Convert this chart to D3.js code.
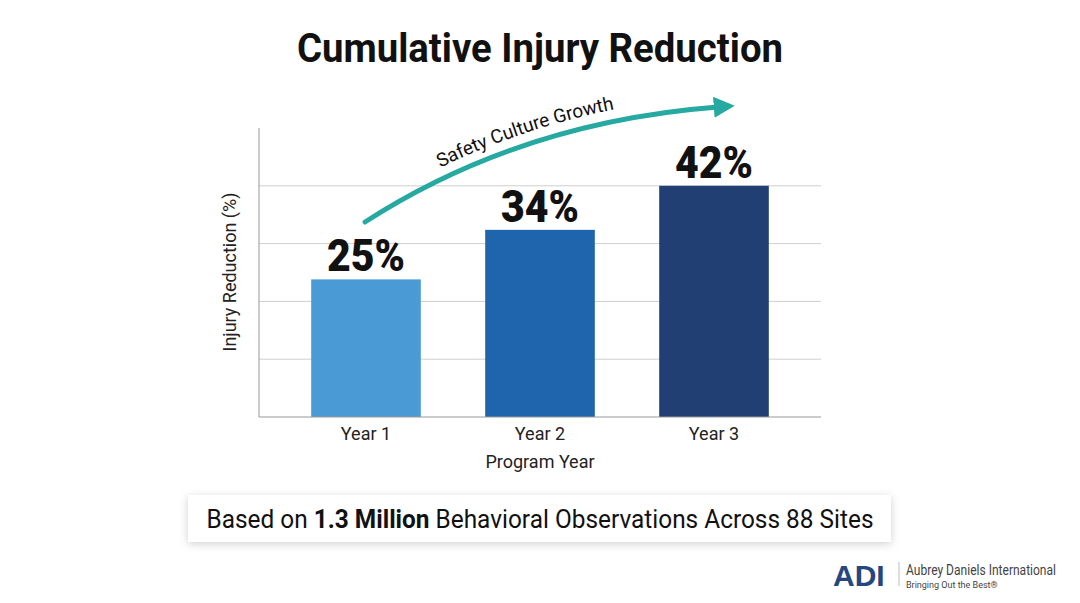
<!DOCTYPE html>
<html lang="en">
  <head>
    <meta charset="utf-8">
    <title>Cumulative Injury Reduction</title>
    <style>
      body { margin: 0; background: #fff; }
      svg { font-family: "Roboto", sans-serif; }
    </style>
  </head>
  <body>
    <svg width="1080" height="603"></svg>
    <script src="https://cdn.jsdelivr.net/npm/d3@7/dist/d3.min.js"></script>
    <script>
      const years = ['Year 1', 'Year 2', 'Year 3'];
      const values = [25, 34, 42];
      const labels = ['25%', '34%', '42%'];
      const colours = ['#4a9bd5', '#1f65ad', '#213f73'];
      const gridTicks = [10.5, 21, 31.5, 42];

      const svg = d3.select('svg');
      const defs = svg.append('defs');
      const f = defs.append('filter').attr('id', 'sh').attr('x', '-5%').attr('y', '-30%').attr('width', '110%').attr('height', '160%');
      f.append('feDropShadow').attr('dx', 0).attr('dy', 2).attr('stdDeviation', 4).attr('flood-color', '#000').attr('flood-opacity', 0.18);
      defs.append('marker').attr('id', 'ah').attr('viewBox', '0 0 10 10').attr('refX', 2).attr('refY', 5)
        .attr('markerWidth', 4.2).attr('markerHeight', 4.2).attr('orient', 'auto').attr('markerUnits', 'strokeWidth')
        .append('path').attr('d', 'M0,0 L10,5 L0,10 z').attr('fill', '#26a9a0');

      const x = d3.scaleBand().domain(years).range([279, 801]).paddingInner(0.37).paddingOuter(0.185);
      const y = d3.scaleLinear().domain([0, 52.5]).range([417, 128]);

      svg.append('text').attr('x', 540).attr('y', 62).attr('text-anchor', 'middle')
        .attr('font-size', 40).attr('font-weight', 'bold').attr('fill', '#111')
        .attr('textLength', 486).attr('lengthAdjust', 'spacingAndGlyphs').text('Cumulative Injury Reduction');

      svg.append('g').selectAll('line').data(gridTicks).enter().append('line')
        .attr('x1', 259).attr('x2', 821).attr('y1', d => y(d)).attr('y2', d => y(d))
        .attr('stroke', '#cfcfcf').attr('stroke-width', 1);

      svg.append('g').selectAll('rect').data(values).enter().append('rect')
        .attr('x', (d, i) => x(years[i])).attr('width', x.bandwidth())
        .attr('y', d => y(d)).attr('height', d => y(0) - y(d))
        .attr('fill', (d, i) => colours[i]);

      svg.append('g').selectAll('text').data(values).enter().append('text')
        .attr('x', (d, i) => x(years[i]) + x.bandwidth() / 2).attr('y', d => y(d) - 8)
        .attr('text-anchor', 'middle').attr('font-size', 44).attr('font-weight', 900).attr('fill', '#111')
        .attr('textLength', 78).attr('lengthAdjust', 'spacingAndGlyphs')
        .text((d, i) => labels[i]);

      svg.append('line').attr('x1', 259).attr('x2', 259).attr('y1', 128).attr('y2', 417).attr('stroke', '#999');
      svg.append('line').attr('x1', 259).attr('x2', 821).attr('y1', 417).attr('y2', 417).attr('stroke', '#999');

      svg.append('g').selectAll('text').data(years).enter().append('text')
        .attr('x', d => x(d) + x.bandwidth() / 2).attr('y', 440).attr('text-anchor', 'middle')
        .attr('font-size', 18).attr('fill', '#222').text(d => d);
      svg.append('text').attr('x', 540).attr('y', 468).attr('text-anchor', 'middle')
        .attr('font-size', 18).attr('fill', '#222').text('Program Year');
      svg.append('text').attr('transform', 'translate(236,272) rotate(-90)').attr('text-anchor', 'middle')
        .attr('font-size', 18).attr('fill', '#222').text('Injury Reduction (%)');

      // growth arrow
      svg.append('path').attr('d', 'M365,222 Q520,122 718,107')
        .attr('fill', 'none').attr('stroke', '#26a9a0').attr('stroke-width', 5).attr('stroke-linecap', 'round')
        .attr('marker-end', 'url(#ah)');
      svg.append('path').attr('id', 'tp').attr('d', 'M365,210 Q520,110 718,95').attr('fill', 'none');
      svg.append('text').attr('font-size', 19).attr('fill', '#111')
        .append('textPath').attr('href', '#tp').attr('startOffset', '23%').text('Safety Culture Growth');

      // footer
      svg.append('rect').attr('x', 188).attr('y', 495).attr('width', 703).attr('height', 47)
        .attr('fill', '#fff').attr('filter', 'url(#sh)');
      const ft = svg.append('text').attr('x', 540).attr('y', 528).attr('text-anchor', 'middle')
        .attr('font-size', 25).attr('fill', '#111').attr('textLength', 667).attr('lengthAdjust', 'spacingAndGlyphs');
      ft.append('tspan').text('Based on ');
      ft.append('tspan').attr('font-weight', 'bold').text('1.3 Million');
      ft.append('tspan').text(' Behavioral Observations Across 88 Sites');

      // logo
      svg.append('text').attr('x', 833).attr('y', 586).attr('font-family', 'Arial, sans-serif')
        .attr('font-size', 30).attr('font-weight', 900).attr('fill', '#24477f').text('ADI');
      svg.append('line').attr('x1', 899).attr('x2', 899).attr('y1', 562).attr('y2', 586).attr('stroke', '#bbb');
      svg.append('text').attr('x', 906).attr('y', 575).attr('font-size', 14).attr('fill', '#444')
        .attr('textLength', 150).attr('lengthAdjust', 'spacingAndGlyphs').text('Aubrey Daniels International');
      svg.append('text').attr('x', 906).attr('y', 588).attr('font-size', 9).attr('fill', '#444').text('Bringing Out the Best®');
    </script>
  </body>
</html>
